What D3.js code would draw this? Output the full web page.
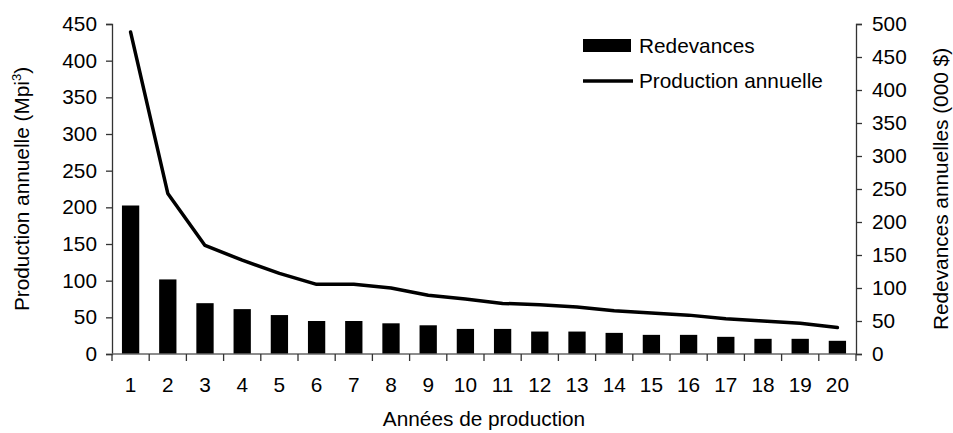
<!DOCTYPE html>
<html><head><meta charset="utf-8">
<script src="https://cdn.jsdelivr.net/npm/d3@7"></script>
<style>
html,body{margin:0;padding:0;background:#fff;}
text{font-family:"Liberation Sans",Arial,sans-serif;fill:#000;}
</style></head>
<body><svg id="c" width="953" height="433"></svg>
<script>
const years = [1,2,3,4,5,6,7,8,9,10,11,12,13,14,15,16,17,18,19,20];
const redevances = [225,113,77,68,59,50,50,46.5,43.5,38,38,34,34,32,29,29,26,23,23,20];
const production = [439,219,148,128,110,95,95,90,80,75,69,67,64,59,56,53,48,45,42,36];
const leftTicks = [0,50,100,150,200,250,300,350,400,450];
const rightTicks = [0,50,100,150,200,250,300,350,400,450,500];

const svg = d3.select("#c");
const L = 112, R = 856, T = 24, B = 354;
const fs = 20.8;

const x = d3.scaleBand().domain(years).range([L, R]).paddingInner(0.535).paddingOuter(0.2675);
const step = (R - L) / years.length;
const yL = d3.scaleLinear().domain([0, 450]).range([B, T]);
const yR = d3.scaleLinear().domain([0, 500]).range([B, T]);

// bars (right axis)
svg.append("g").selectAll("rect").data(years).join("rect")
  .attr("x", (d) => x(d))
  .attr("width", x.bandwidth())
  .attr("y", (d, i) => yR(redevances[i]))
  .attr("height", (d, i) => B - yR(redevances[i]))
  .attr("fill", "#000");

// line (left axis)
const line = d3.line().x((d, i) => x(years[i]) + x.bandwidth() / 2).y((d) => yL(d));
svg.append("path").datum(production).attr("d", line)
  .attr("fill", "none").attr("stroke", "#000").attr("stroke-width", 3.5)
  .attr("stroke-linejoin", "round").attr("stroke-linecap", "round");

// left axis
const gl = svg.append("g").attr("transform", `translate(${L},0)`)
  .call(d3.axisLeft(yL).tickValues(leftTicks).tickSizeOuter(0).tickSize(6).tickPadding(9));
// right axis
const gr = svg.append("g").attr("transform", `translate(${R},0)`)
  .call(d3.axisRight(yR).tickValues(rightTicks).tickSizeOuter(0).tickSize(6).tickPadding(10));
[gl, gr].forEach(g => {
  g.select(".domain").attr("stroke", "#333").attr("stroke-width", 1.3);
  g.selectAll(".tick line").attr("stroke", "#333").attr("stroke-width", 1.3);
  g.selectAll("text").attr("font-size", fs).attr("font-family", "Liberation Sans, Arial, sans-serif").attr("fill", "#000");
});

// x axis
const gx = svg.append("g").attr("transform", `translate(0,${B})`);
gx.append("line").attr("x1", L).attr("x2", R).attr("y1", 0).attr("y2", 0)
  .attr("stroke", "#666").attr("stroke-width", 1.5);
gx.selectAll("line.t").data(d3.range(years.length + 1)).join("line").attr("class", "t")
  .attr("x1", (d) => L + d * step).attr("x2", (d) => L + d * step)
  .attr("y1", 0).attr("y2", 7).attr("stroke", "#333").attr("stroke-width", 1.3);
gx.selectAll("text").data(years).join("text")
  .attr("x", (d) => x(d) + x.bandwidth() / 2).attr("y", 38)
  .attr("text-anchor", "middle").attr("font-size", fs).text((d) => d);

// axis titles
svg.append("text").attr("transform", `translate(484,426)`).attr("text-anchor", "middle")
  .attr("font-size", fs).text("Années de production");
const lt = svg.append("text").attr("transform", `translate(29,${(T + B) / 2}) rotate(-90)`)
  .attr("text-anchor", "middle").attr("font-size", fs);
lt.append("tspan").text("Production annuelle (Mpi");
lt.append("tspan").attr("font-size", 13).attr("dy", -8).text("3");
lt.append("tspan").attr("dy", 8).text(")");
svg.append("text").attr("transform", `translate(948,${(T + B) / 2}) rotate(-90)`)
  .attr("text-anchor", "middle").attr("font-size", fs).text("Redevances annuelles (000 $)");

// legend
const lg = svg.append("g");
lg.append("rect").attr("x", 583).attr("y", 39).attr("width", 48).attr("height", 13).attr("fill", "#000");
lg.append("text").attr("x", 639).attr("y", 46).attr("dy", "0.35em").attr("font-size", fs).text("Redevances");
lg.append("line").attr("x1", 583).attr("x2", 633).attr("y1", 81).attr("y2", 81)
  .attr("stroke", "#000").attr("stroke-width", 3.5);
lg.append("text").attr("x", 639).attr("y", 81).attr("dy", "0.35em").attr("font-size", fs).text("Production annuelle");
</script></body></html>
